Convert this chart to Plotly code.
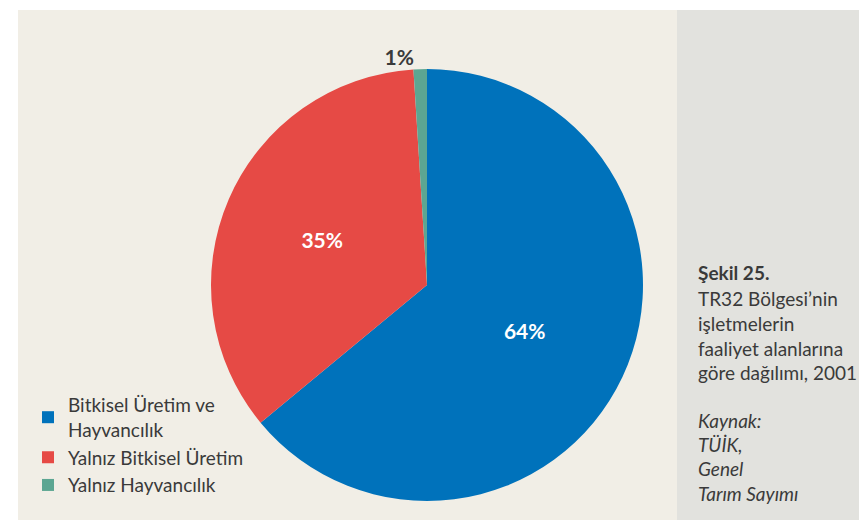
import plotly.graph_objects as go

W, H = 867, 520
OFF = 8  # page body margin of the generated html

categories = ["Bitkisel Üretim ve<br>Hayvancılık", "Yalnız Bitkisel Üretim", "Yalnız Hayvancılık"]
values = [64, 35, 1]
colors = ["#0072bb", "#e64a45", "#5ca692"]
label_colors = ["#ffffff", "#ffffff", "#3a3a3a"]

caption_lines = [
    ("<b>Şekil 25.</b>", 272),
    ("TR32 Bölgesi’nin", 298),
    ("işletmelerin", 323),
    ("faaliyet alanlarına", 348),
    ("göre dağılımı, 2001", 372),
    ("<i>Kaynak:</i>", 420),
    ("<i>TÜİK,</i>", 444),
    ("<i>Genel</i>", 468),
    ("<i>Tarım Sayımı</i>", 493),
]

FONT = "Lato"


def px(x):
    return (x - OFF) / W


def py(y):
    return (H - (y - OFF)) / H


cx, cy, r = 427, 285, 216

fig = go.Figure(go.Pie(
    labels=categories,
    values=values,
    sort=False,
    direction="clockwise",
    rotation=0,
    marker=dict(colors=colors, line=dict(width=0)),
    texttemplate="%{percent:.0%}",
    textposition=["inside", "inside", "outside"],
    insidetextorientation="horizontal",
    textfont=dict(family=FONT, size=21, color=label_colors, weight="bold"),
    domain=dict(x=[px(cx - r), px(cx + r)], y=[py(cy + r), py(cy - r)]),
    hoverinfo="label+percent",
))

shapes = [
    dict(type="rect", xref="paper", yref="paper", x0=px(18), x1=px(677), y0=0, y1=py(10),
         fillcolor="#f1eee6", line=dict(width=0), layer="below"),
    dict(type="rect", xref="paper", yref="paper", x0=px(677), x1=1, y0=0, y1=py(10),
         fillcolor="#e2e2de", line=dict(width=0), layer="below"),
]

annotations = []
for text, y in caption_lines:
    annotations.append(dict(text=text, x=px(696), y=py(y), xref="paper", yref="paper",
                            xanchor="left", yanchor="middle", showarrow=False,
                            font=dict(family=FONT, size=19, color="#3a3a3a")))

fig.update_layout(
    width=W, height=H,
    margin=dict(l=0, r=0, t=0, b=0),
    paper_bgcolor="#ffffff",
    plot_bgcolor="#ffffff",
    shapes=shapes,
    annotations=annotations,
    showlegend=True,
    legend=dict(x=px(28), y=py(386), xanchor="left", yanchor="top",
                font=dict(family=FONT, size=19, color="#3a3a3a"),
                bgcolor="rgba(0,0,0,0)", itemwidth=30, tracegroupgap=0),
    font=dict(family=FONT),
)

fig.write_html("out.html")
